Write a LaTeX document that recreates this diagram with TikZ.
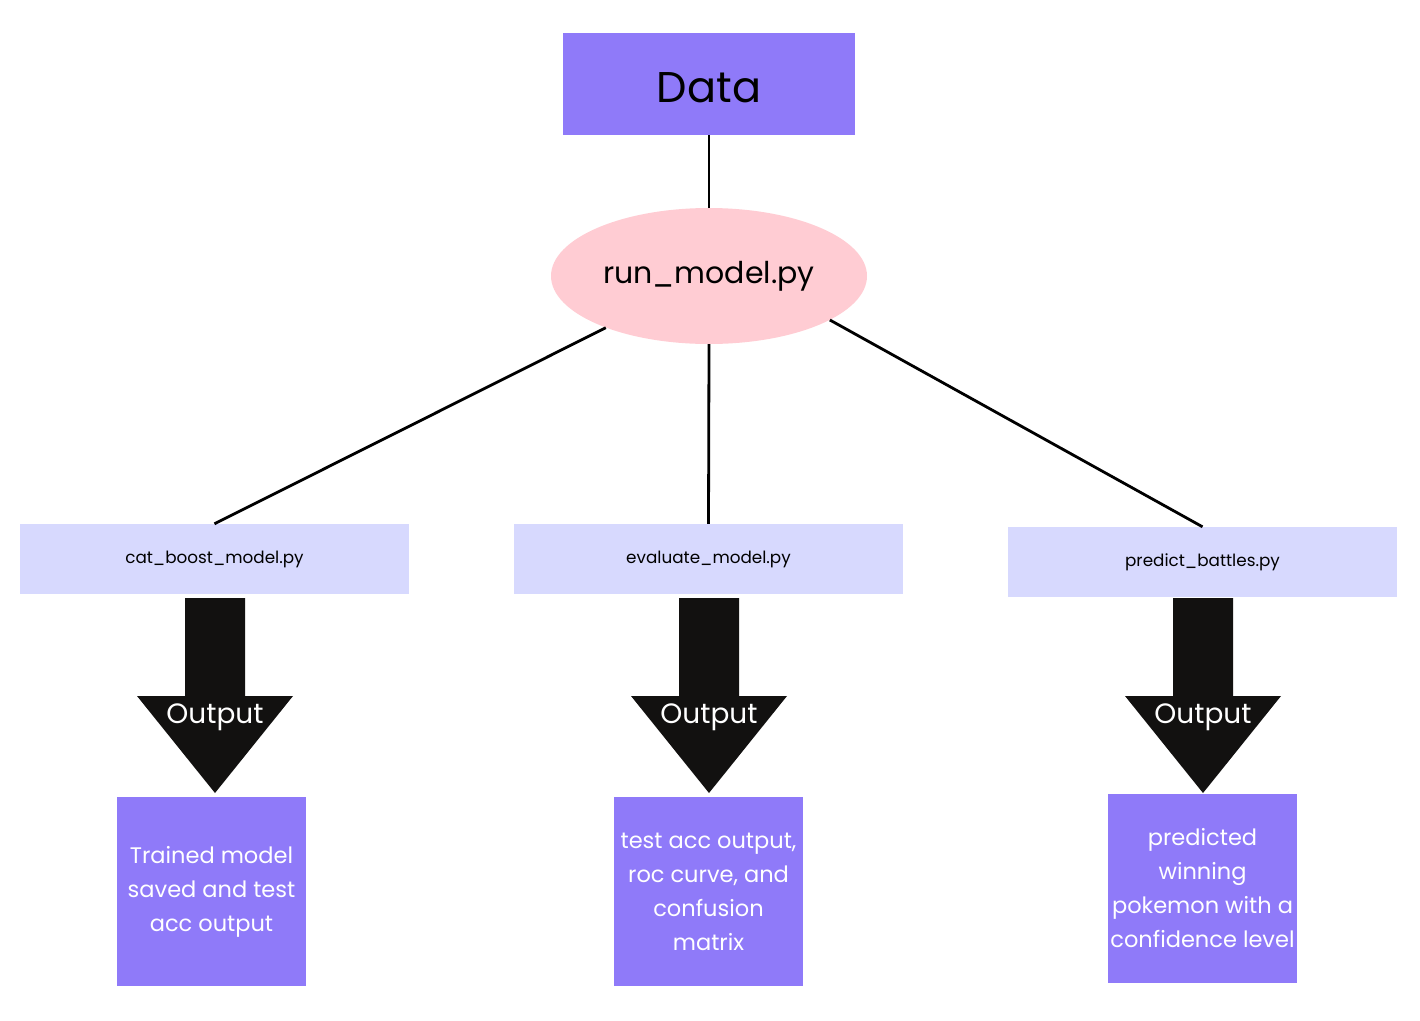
\documentclass[tikz,border=0pt]{standalone}
\usepackage{fontspec}
\setmainfont{Poppins}
\usetikzlibrary{shapes.geometric}
\definecolor{violetbox}{HTML}{8F7AF9}
\definecolor{pinkell}{HTML}{FFCCD3}
\definecolor{lavbox}{HTML}{D7D9FE}
\definecolor{arrowblk}{HTML}{121110}
\tikzset{
  databox/.style={fill=violetbox, minimum width=292pt, minimum height=102pt, inner sep=0pt, text height=36pt, text depth=0pt, font=\fontsize{43}{50}\selectfont},
  runell/.style={ellipse, fill=pinkell, minimum width=316pt, minimum height=136pt, inner sep=0pt, font=\fontsize{30}{34}\selectfont},
  filebox/.style={fill=lavbox, minimum width=389pt, minimum height=70pt, inner sep=0pt, font=\fontsize{16.8}{20}\selectfont},
  outbox/.style={fill=violetbox, minimum width=189pt, minimum height=189pt, inner sep=0pt, text=white, align=center, font=\fontsize{22.5}{34}\selectfont},
  conn/.style={draw=black, line width=2.8pt},
  blockarrow/.style={fill=arrowblk},
  outlabel/.style={text=white, font=\fontsize{28}{32}\selectfont, inner sep=0pt}
}
\begin{document}
\begin{tikzpicture}[x=1pt,y=-1pt]
\useasboundingbox (0,0) rectangle (1420,1020);
\node[databox] (data) at (709,84) {Data};
\node[runell] (run) at (709,276) {run\_model.py};
\node[filebox] (f1) at (214.5,559) {cat\_boost\_model.py};
\node[filebox] (f2) at (708.5,559) {evaluate\_model.py};
\node[filebox] (f3) at (1202.5,562) {predict\_battles.py};
\node[outbox] (o1) at (211.5,891.5) {Trained model\\saved and test\\acc output};
\node[outbox] (o2) at (708.5,891.5) {test acc output,\\roc curve, and\\confusion\\matrix};
\node[outbox] (o3) at (1202.5,888.5) {predicted\\winning\\pokemon with a\\confidence level};
\draw[conn] (data.south) -- (run);
\draw[conn] (run) -- (f1.north);
\draw[conn] (run.south) -- (f2.north);
\draw[conn] (run.-20) -- (f3.north);
\foreach \cx/\n in {215/a1,709/a2,1203/a3}{
  \fill[blockarrow] (\cx-30,598) -- ++(60,0) -- ++(0,98) -- ++(48,0) -- ++(-78,97) -- ++(-78,-97) -- ++(48,0) -- cycle;
  \node[outlabel] (\n lab) at (\cx,717) {Output};
}
\end{tikzpicture}
\end{document}
